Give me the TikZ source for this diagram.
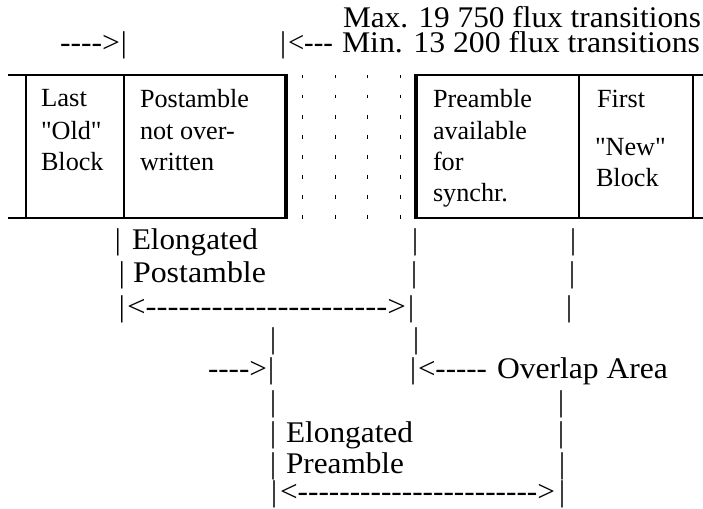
\documentclass[tikz,border=0pt]{standalone}
\usepackage{fontspec}
\setmainfont{Liberation Serif}[Ligatures=TeXOff]
\usepackage{graphicx}
\newcommand{\fw}[2]{\resizebox{#1pt}{\height}{#2}}
\tikzset{
  asc/.style={inner sep=0pt, outer sep=0pt, anchor=base west, font=\fontsize{30}{30}\selectfont},
  vbar/.style={inner sep=0pt, outer sep=0pt, anchor=base, font=\fontsize{30}{30}\selectfont},
  bx/.style={inner sep=0pt, outer sep=0pt, anchor=base west, font=\fontsize{26.2}{31}\selectfont},
  rulel/.style={line width=2.2pt},
  ruleb/.style={line width=4.5pt},
  dots/.style={line width=1pt, dash pattern=on 3.5pt off 16.5pt},
}
\begin{document}
\begin{tikzpicture}[x=1pt,y=-1pt]
\useasboundingbox (0,0) rectangle (703,508);

% ---- blocks ----
\draw[rulel] (8,75) -- (286,75);
\draw[rulel] (8,218) -- (286,218);
\draw[rulel] (26,75) -- (26,218);
\draw[rulel] (124,75) -- (124,218);
\draw[ruleb] (286,73.9) -- (286,219.1);
\draw[ruleb] (416,73.9) -- (416,219.1);
\draw[rulel] (416,75) -- (703,75);
\draw[rulel] (416,218) -- (703,218);
\draw[rulel] (579,75) -- (579,218);
\draw[rulel] (693,75) -- (693,218);
\foreach \x in {302,335,367,400}
  \draw[dots] (\x,75) -- (\x,222);

% ---- block texts ----
\node[bx] (l1) at (41,107) {\fw{46}{Last}};
\node[bx] (l2) at (41,139) {"Old"};
\node[bx] (l3) at (41,170) {Block};
\node[bx] (p1) at (140,107) {\fw{109}{Postamble}};
\node[bx] (p2) at (140,139) {not over-};
\node[bx] (p3) at (140,170) {written};
\node[bx] (r1) at (433,107) {Preamble};
\node[bx] (r2) at (433,139) {\fw{94}{available}};
\node[bx] (r3) at (433,170) {for};
\node[bx] (r4) at (433,201) {synchr.};
\node[bx] (f1) at (597,107) {First};
\node[bx] (f2) at (595,155) {"New"};
\node[bx] (f3) at (596,186) {Block};

% ---- top ascii ----
\node[asc] (max) at (343,28) {\fw{358}{Max. 19 750 flux transitions}};
\node[asc] (ar1) at (60,53) {\fw{60}{-{}-{}-{}->}};
\node[vbar] (b1) at (124,53) {|};
\node[vbar] (b2) at (283,53) {|};
\node[asc] (ar2) at (288,53) {\fw{45}{<-{}-{}-}};
\node[asc] (min) at (342,53) {\fw{358}{Min. 13 200 flux transitions}};

% ---- row 1 ----
\node[vbar] (b11) at (118,249) {|};
\node[asc] (elp) at (132,249) {\fw{126}{Elongated}};
\node[vbar] (b12) at (415,249) {|};
\node[vbar] (b13) at (573,249) {|};
% ---- row 2 ----
\node[vbar] (b21) at (122,282) {|};
\node[asc] (pst) at (133,282) {\fw{133}{Postamble}};
\node[vbar] (b22) at (414,282) {|};
\node[vbar] (b23) at (572,282) {|};
% ---- row 3 ----
\node[vbar] (b31) at (122,316) {|};
\node[asc] (ar3) at (127,316) {\fw{279}{<-{}-{}-{}-{}-{}-{}-{}-{}-{}-{}-{}-{}-{}-{}-{}-{}-{}-{}-{}-{}-{}->}};
\node[vbar] (b32) at (411,316) {|};
\node[vbar] (b33) at (569,316) {|};
% ---- row 4 ----
\node[vbar] (b41) at (273,348) {|};
\node[vbar] (b42) at (416,348) {|};
% ---- row 5 ----
\node[asc] (ar5a) at (208,378) {\fw{59}{-{}-{}-{}->}};
\node[vbar] (b51) at (271,378) {|};
\node[vbar] (b52) at (413,378) {|};
\node[asc] (ar5b) at (418,378) {\fw{69}{<-{}-{}-{}-{}-}};
\node[asc] (ovl) at (497,378) {\fw{171}{Overlap Area}};
% ---- row 6 ----
\node[vbar] (b61) at (273,411) {|};
\node[vbar] (b62) at (561,411) {|};
% ---- row 7 ----
\node[vbar] (b71) at (273,442) {|};
\node[asc] (elr) at (286,442) {\fw{127}{Elongated}};
\node[vbar] (b72) at (561,442) {|};
% ---- row 8 ----
\node[vbar] (b81) at (273,473) {|};
\node[asc] (pre) at (286,473) {\fw{118}{Preamble}};
\node[vbar] (b82) at (562,473) {|};
% ---- row 9 ----
\node[vbar] (b91) at (274,501) {|};
\node[asc] (ar9) at (280,501) {\fw{275}{<-{}-{}-{}-{}-{}-{}-{}-{}-{}-{}-{}-{}-{}-{}-{}-{}-{}-{}-{}-{}-{}-{}->}};
\node[vbar] (b92) at (562,501) {|};
\end{tikzpicture}
\end{document}
